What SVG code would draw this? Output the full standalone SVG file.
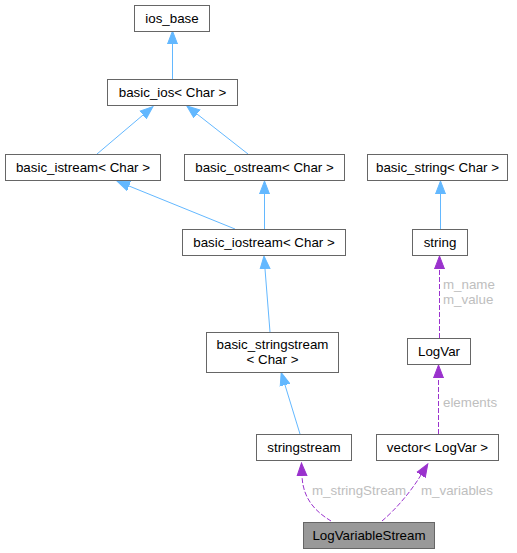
<svg xmlns="http://www.w3.org/2000/svg" width="517" height="553" viewBox="0 0 517 553">
<style>
.node rect{fill:#ffffff;stroke:#666666;stroke-width:1}
.node text{font-family:"Liberation Sans",Arial,sans-serif;font-size:13.33px;fill:#000000;text-anchor:middle}
.inh{fill:none;stroke:#63b8ff;stroke-width:1}
.use{fill:none;stroke:#9a32cd;stroke-width:1;stroke-dasharray:5,2}
.lbl{font-family:"Liberation Sans",Arial,sans-serif;font-size:13.33px;fill:#bebebe}
</style>
<defs>
<marker id="ai" markerUnits="userSpaceOnUse" markerWidth="14" markerHeight="12" refX="0" refY="5" orient="auto" viewBox="0 0 14 10">
<polygon points="0,0 13,5 0,10" fill="#63b8ff" stroke="#63b8ff"/>
</marker>
<marker id="au" markerUnits="userSpaceOnUse" markerWidth="14" markerHeight="12" refX="0" refY="5" orient="auto" viewBox="0 0 14 10">
<polygon points="0,0 13,5 0,10" fill="#9a32cd" stroke="#9a32cd"/>
</marker>
</defs>
<g id="edges">
<path class="inh" d="M172.5,79 L172.5,44" marker-end="url(#ai)"/>
<path class="inh" d="M97,154 L143,115" marker-end="url(#ai)"/>
<path class="inh" d="M248,154 L197,114" marker-end="url(#ai)"/>
<path class="inh" d="M235,229 L129,186" marker-end="url(#ai)"/>
<path class="inh" d="M264.5,229 L264.5,194" marker-end="url(#ai)"/>
<path class="inh" d="M270,332 L265,269" marker-end="url(#ai)"/>
<path class="inh" d="M300,434 L285,385" marker-end="url(#ai)"/>
<path class="inh" d="M440.5,229 L440.5,194" marker-end="url(#ai)"/>
<path class="use" d="M439.5,338 L439.5,269" marker-end="url(#au)"/>
<path class="use" d="M438.5,434 L438.5,378" marker-end="url(#au)"/>
<path class="use" d="M331,521 C318,513 303,501 302,476" marker-end="url(#au)"/>
<path class="use" d="M382,521 C395,510 410,493 421,475" marker-end="url(#au)"/>
<text class="lbl" x="443" y="289">m_name</text>
<text class="lbl" x="443" y="304">m_value</text>
<text class="lbl" x="443" y="407">elements</text>
<text class="lbl" x="312" y="495">m_stringStream</text>
<text class="lbl" x="421" y="495">m_variables</text>
</g>
<g id="ios_base" class="node"><rect x="134.5" y="5.5" width="75" height="26"/><text x="172" y="22.5">ios_base</text></g>
<g id="basic_ios" class="node"><rect x="107.5" y="79.5" width="130" height="26"/><text x="172.5" y="96.5">basic_ios&lt; Char &gt;</text></g>
<g id="basic_istream" class="node"><rect x="5.5" y="154.5" width="155" height="26"/><text x="83" y="171.5">basic_istream&lt; Char &gt;</text></g>
<g id="basic_ostream" class="node"><rect x="184.5" y="154.5" width="160" height="26"/><text x="264.5" y="171.5">basic_ostream&lt; Char &gt;</text></g>
<g id="basic_iostream" class="node"><rect x="182.5" y="229.5" width="163" height="26"/><text x="264" y="246.5">basic_iostream&lt; Char &gt;</text></g>
<g id="basic_stringstream" class="node"><rect x="206.5" y="332.5" width="132" height="40"/><text x="272.5" y="349">basic_stringstream</text><text x="272.5" y="364">&lt; Char &gt;</text></g>
<g id="stringstream" class="node"><rect x="256.5" y="434.5" width="95" height="26"/><text x="304" y="451.5">stringstream</text></g>
<g id="basic_string" class="node"><rect x="367.5" y="154.5" width="140" height="26"/><text x="437.5" y="171.5">basic_string&lt; Char &gt;</text></g>
<g id="string" class="node"><rect x="412.5" y="229.5" width="55" height="26"/><text x="440" y="246.5">string</text></g>
<g id="LogVar" class="node"><rect x="407.5" y="338.5" width="63" height="26"/><text x="439" y="355.5">LogVar</text></g>
<g id="vector_LogVar" class="node"><rect x="376.5" y="434.5" width="122" height="26"/><text x="437.5" y="451.5">vector&lt; LogVar &gt;</text></g>
<g id="LogVariableStream" class="node"><rect x="303.5" y="522.5" width="131" height="26" style="fill:#999999"/><text x="369" y="539.5">LogVariableStream</text></g>
</svg>
